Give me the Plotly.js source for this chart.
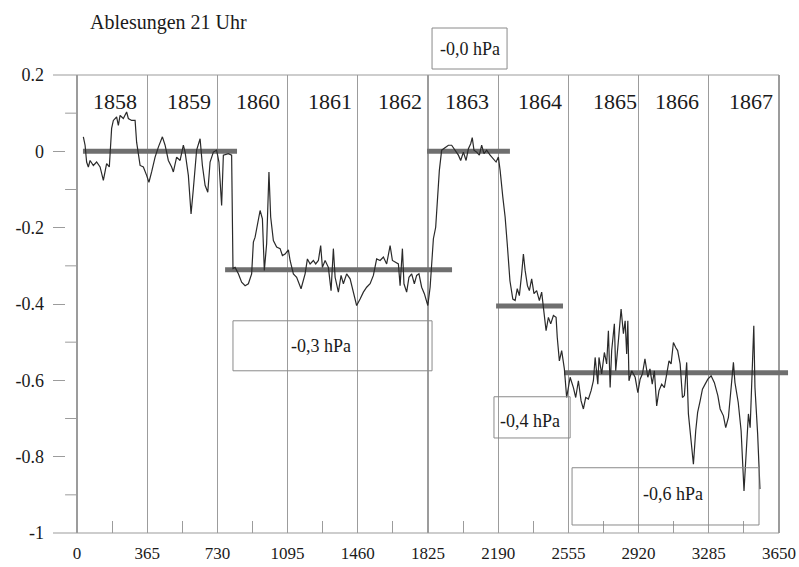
<!DOCTYPE html>
<html>
<head>
<meta charset="utf-8">
<script src="https://cdn.plot.ly/plotly-3.0.1.min.js"></script>
<style>html,body{margin:0;padding:0;background:#fff;}#chart{width:799px;height:567px;}</style>
</head>
<body>
<div id="chart"></div>
<script>
// ---- data ----
const days = [33,42,50,59,68,85,102,120,137,154,168,180,189,206,215,224,241,258,267,284,302,310,328,345,362,374,388,406,423,444,458,475,492,501,518,536,553,562,579,593,605,622,640,652,666,680,692,709,726,738,752,761,787,804,811,
822,839,856,874,891,908,917,926,940,952,964,974,986,992,998,1007,1021,1038,1056,1068,1082,1099,1108,1125,1142,1165,1186,1198,1212,1229,1241,1255,1267,1276,1290,1307,1321,1333,1342,1359,1373,1385,1402,1420,1437,1454,1472,1489,1506,1524,1541,1558,1576,1593,1610,1628,1640,1654,1671,1680,1692,1700,1714,1726,1740,1754,1766,1778,1792,1806,1824,1836,1844,1853,1865,1879,1884,1896,
1914,1931,1948,1966,1983,1995,2009,2023,2035,2047,2055,2064,2078,2092,2104,2116,2130,2148,2165,2179,2191,2200,2214,2226,2237,2251,2266,2278,2289,2300,2312,2321,2330,2342,2352,2364,2376,2390,2404,2416,2428,2439,2451,2463,2477,2491,2497,2508,2520,2534,2546,2564,2581,2593,2607,2621,2633,2645,2659,2673,2685,2694,2708,2714,2728,2742,2754,2763,2772,2780,2794,2801,2815,2829,2841,2850,2858,2864,2870,2884,2902,2916,2928,2940,2953,2968,2979,2991,3002,3014,3026,3040,3054,3066,3078,3089,3101,3113,3123,3136,3148,3158,3170,3179,3193,3205,3217,3227,3240,3252,3266,3280,3297,3314,3332,3344,3361,3373,3387,3401,3413,3421,3438,3453,3461,3468,3479,3491,3500,3508,3519,3525,3539,3551];
const pressureDiff = [0.038,0.016,-0.028,-0.041,-0.024,-0.037,-0.028,-0.041,-0.076,-0.032,-0.041,0.060,0.081,0.090,0.068,0.094,0.086,0.103,0.086,0.081,0.081,0.024,-0.037,-0.041,-0.063,-0.081,-0.054,-0.015,0.011,0.038,0.016,-0.024,-0.041,-0.054,-0.015,-0.024,0.016,-0.002,-0.063,-0.164,-0.098,0.003,0.033,-0.037,-0.089,-0.107,-0.028,-0.002,0.003,-0.028,-0.142,-0.010,-0.006,-0.010,-0.307,
-0.304,-0.321,-0.343,-0.352,-0.347,-0.321,-0.238,-0.225,-0.186,-0.155,-0.177,-0.312,-0.242,-0.146,-0.054,-0.172,-0.234,-0.251,-0.255,-0.273,-0.269,-0.258,-0.286,-0.321,-0.330,-0.360,-0.321,-0.282,-0.295,-0.286,-0.295,-0.286,-0.247,-0.304,-0.286,-0.304,-0.365,-0.255,-0.330,-0.369,-0.325,-0.347,-0.321,-0.334,-0.373,-0.404,-0.387,-0.369,-0.356,-0.347,-0.325,-0.282,-0.286,-0.277,-0.295,-0.247,-0.286,-0.291,-0.295,-0.352,-0.255,-0.347,-0.369,-0.330,-0.321,-0.347,-0.325,-0.321,-0.356,-0.373,-0.404,-0.356,-0.286,-0.229,-0.199,-0.094,-0.050,0.003,
0.011,0.016,0.016,0.003,-0.010,-0.024,-0.002,-0.024,0.007,0.020,0.036,0.003,-0.002,-0.010,0.016,-0.006,0.003,-0.010,-0.019,-0.028,-0.015,-0.050,-0.120,-0.172,-0.242,-0.339,-0.387,-0.391,-0.360,-0.378,-0.321,-0.269,-0.312,-0.352,-0.365,-0.334,-0.373,-0.365,-0.391,-0.369,-0.422,-0.470,-0.435,-0.452,-0.430,-0.435,-0.487,-0.549,-0.522,-0.570,-0.645,-0.592,-0.619,-0.645,-0.601,-0.654,-0.675,-0.645,-0.649,-0.627,-0.601,-0.540,-0.610,-0.540,-0.583,-0.527,-0.557,-0.470,-0.619,-0.522,-0.452,-0.575,-0.496,-0.413,-0.478,-0.444,-0.531,-0.444,-0.601,-0.575,-0.592,-0.632,-0.597,-0.583,-0.544,-0.592,-0.570,-0.610,-0.575,-0.667,-0.627,-0.610,-0.619,-0.583,-0.549,-0.557,-0.501,-0.514,-0.522,-0.557,-0.645,-0.640,-0.553,-0.688,-0.750,-0.820,-0.732,-0.684,-0.654,-0.623,-0.610,-0.597,-0.588,-0.606,-0.640,-0.675,-0.693,-0.724,-0.697,-0.610,-0.553,-0.606,-0.658,-0.732,-0.820,-0.890,-0.793,-0.688,-0.724,-0.619,-0.457,-0.619,-0.741,-0.885];

const stepStart = [31, 770, 1820, 2179, 2532];
const stepEnd   = [832, 1950, 2251, 2527, 3697];
const stepValue = [0, -0.31, 0, -0.405, -0.58];

const years = ['1858','1859','1860','1861','1862','1863','1864','1865','1866','1867'];
const yearCenter = [198, 580, 941, 1316, 1680, 2028, 2408, 2798, 3120, 3505];

const xTicks = [0, 365, 730, 1095, 1460, 1825, 2190, 2555, 2920, 3285, 3650];
const xMinorTicks = [182.5, 547.5, 912.5, 1277.5, 1642.5, 2007.5, 2372.5, 2737.5, 3102.5, 3467.5];
const yTicks = [0.2, 0, -0.2, -0.4, -0.6, -0.8, -1];
const yTickText = ['0.2', '0', '-0.2', '-0.4', '-0.6', '-0.8', '-1'];
const yMinorTicks = [0.1, -0.1, -0.3, -0.5, -0.7, -0.9];

const boxLabels = ['-0,0 hPa', '-0,3 hPa', '-0,4 hPa', '-0,6 hPa'];

// ---- build ----
const FONT = '"Liberation Serif", "Times New Roman", Times, serif';
const GRID = '#9c9c9c';

const stepX = [], stepY = [];
for (let i = 0; i < stepStart.length; i++) {
  stepX.push(stepStart[i], stepEnd[i], null);
  stepY.push(stepValue[i], stepValue[i], null);
}

const traces = [
  {x: stepX, y: stepY, mode: 'lines', line: {color: '#6f6f6f', width: 5}, hoverinfo: 'skip', showlegend: false},
  {x: days, y: pressureDiff, mode: 'lines', line: {color: '#2a2a2a', width: 1.2}, showlegend: false}
];

const XL = -124.8, XR = 3702;

const shapes = [
  {type: 'line', xref: 'x', yref: 'paper', x0: XL, x1: xTicks[xTicks.length-1], y0: 1, y1: 1, line: {color: GRID, width: 1.2}},
  {type: 'line', xref: 'x', yref: 'paper', x0: XL, x1: xTicks[xTicks.length-1], y0: 0, y1: 0, line: {color: GRID, width: 1.2}},
  // label boxes
  {type: 'rect', xref: 'x', yref: 'paper', x0: 1846, x1: 2236, y0: 1.0131, y1: 1.1026, line: {color: '#8a8a8a', width: 1}},
  {type: 'rect', xref: 'x', yref: 'y', x0: 811, x1: 1846, y0: -0.575, y1: -0.444, line: {color: '#8a8a8a', width: 1}},
  {type: 'rect', xref: 'x', yref: 'y', x0: 2168, x1: 2564, y0: -0.751, y1: -0.643, line: {color: '#8a8a8a', width: 1}},
  {type: 'rect', xref: 'x', yref: 'y', x0: 2574, x1: 3546, y0: -0.979, y1: -0.829, line: {color: '#8a8a8a', width: 1}}
];
yMinorTicks.forEach(v => shapes.push({type: 'line', xref: 'x', yref: 'y', x0: -62, x1: 0, y0: v, y1: v, line: {color: GRID, width: 1}}));

const annotations = years.map((t, i) => ({
  x: yearCenter[i], y: 0.13, xref: 'x', yref: 'y', text: t, showarrow: false,
  font: {family: FONT, size: 22, color: '#1a1a1a'}, xanchor: 'center', yanchor: 'middle'
}));
const boxText = [
  {x: 2041, y: 1.0578, yref: 'paper'},
  {x: 1269, y: -0.509, yref: 'y'},
  {x: 2356, y: -0.706, yref: 'y'},
  {x: 3099, y: -0.898, yref: 'y'}
];
boxLabels.forEach((t, i) => annotations.push({
  x: boxText[i].x, y: boxText[i].y, xref: 'x', yref: boxText[i].yref, text: t, showarrow: false,
  font: {family: FONT, size: 18, color: '#1a1a1a'}, xanchor: 'center', yanchor: 'middle'
}));

const layout = {
  width: 799, height: 567,
  margin: {l: 53, r: 10, t: 75, b: 34, autoexpand: false},
  paper_bgcolor: '#ffffff', plot_bgcolor: '#ffffff',
  font: {family: FONT, color: '#1a1a1a'},
  title: {text: 'Ablesungen 21 Uhr', xref: 'container', yref: 'container', x: 90/799, xanchor: 'left', y: 1 - 22/567, yanchor: 'middle',
          font: {family: FONT, size: 20, color: '#1a1a1a'}},
  xaxis: {
    range: [XL, XR], tickmode: 'array', tickvals: xTicks, ticktext: xTicks.map(String),
    showgrid: true, gridcolor: GRID, gridwidth: 1.2, zeroline: false, showline: false, ticks: '',
    tickfont: {family: FONT, size: 17, color: '#1a1a1a'}, ticklabelstandoff: 8, automargin: false,
    minor: {tickmode: 'array', tickvals: xMinorTicks, ticks: 'inside', ticklen: 12, tickcolor: GRID, tickwidth: 1, showgrid: false}
  },
  yaxis: {
    range: [-1, 0.2], tickmode: 'array', tickvals: yTicks, ticktext: yTickText,
    showgrid: false, zeroline: false, showline: false, ticks: 'inside', ticklen: 12, tickcolor: GRID, tickwidth: 1,
    tickfont: {family: FONT, size: 18, color: '#1a1a1a'}, ticklabelstandoff: 8, automargin: false
  },
  shapes: shapes,
  annotations: annotations,
  showlegend: false
};

Plotly.newPlot('chart', traces, layout, {staticPlot: true, displayModeBar: false});
</script>
</body>
</html>
